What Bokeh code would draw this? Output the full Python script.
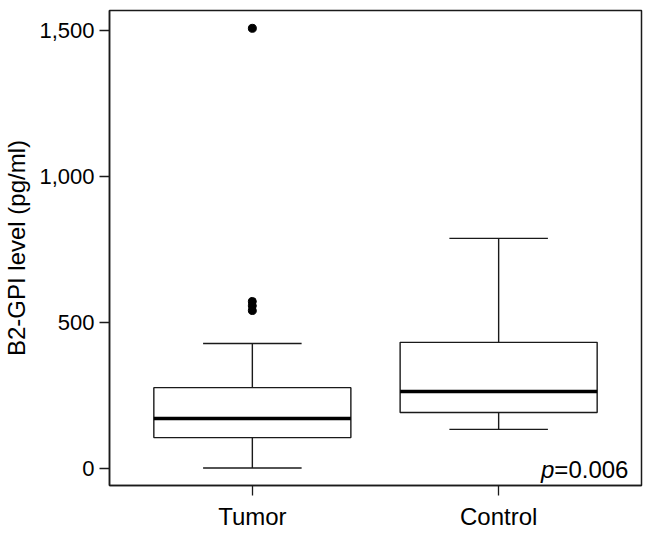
from bokeh.plotting import figure
from bokeh.models import FixedTicker, NumeralTickFormatter, Range1d, Label
from bokeh.embed import file_html
from bokeh.resources import INLINE

# ---- data ----
categories = ["Tumor", "Control"]
whisker_low = [2, 134]
q1 = [106, 192]
median = [171, 264]
q3 = [277, 432]
whisker_high = [428, 788]
outlier_group = ["Tumor", "Tumor", "Tumor", "Tumor"]
outlier_values = [1507, 572, 557, 541]
y_ticks = [0, 500, 1000, 1500]
p_text = "0.006"

FONT = "Liberation Sans"
LC = "#1a1a1a"

xpos = {c: i + 1 for i, c in enumerate(categories)}
xs = [xpos[c] for c in categories]

p = figure(width=644, height=550, output_backend="svg", toolbar_location=None,
           x_range=Range1d(0.42, 2.58), y_range=Range1d(-58, 1568),
           min_border_left=107, min_border_right=3, min_border_top=10, min_border_bottom=65)

p.xgrid.visible = False
p.ygrid.visible = False
p.outline_line_color = LC
p.outline_line_width = 1.5
p.background_fill_color = "white"
p.border_fill_color = "white"

# whiskers
p.segment(x0=xs, x1=xs, y0=q3, y1=whisker_high, line_color=LC, line_width=1.4)
p.segment(x0=xs, x1=xs, y0=whisker_low, y1=q1, line_color=LC, line_width=1.4)
cap_l = [x - 0.2 for x in xs]
cap_r = [x + 0.2 for x in xs]
p.segment(x0=cap_l, x1=cap_r, y0=whisker_high, y1=whisker_high, line_color=LC, line_width=1.4)
p.segment(x0=cap_l, x1=cap_r, y0=whisker_low, y1=whisker_low, line_color=LC, line_width=1.4)
# boxes
p.vbar(x=xs, width=0.8, bottom=q1, top=q3, fill_color="white", line_color=LC, line_width=1.4)
# medians
p.segment(x0=[x - 0.4 for x in xs], x1=[x + 0.4 for x in xs], y0=median, y1=median,
          line_color="black", line_width=3.5)
# outliers
p.scatter(x=[xpos[g] for g in outlier_group], y=outlier_values, size=8,
          marker="circle", fill_color="black", line_color="black")

# axes
p.xaxis.ticker = FixedTicker(ticks=xs)
p.xaxis.major_label_overrides = {x: c for x, c in zip(xs, categories)}
p.yaxis.ticker = FixedTicker(ticks=y_ticks)
p.yaxis.formatter = NumeralTickFormatter(format="0,0")
p.xaxis.minor_tick_line_color = None
p.yaxis.minor_tick_line_color = None
for ax in (p.xaxis, p.yaxis):
    ax.axis_line_color = LC
    ax.axis_line_width = 1.5
    ax.major_tick_line_color = LC
    ax.major_tick_line_width = 1.3
    ax.major_tick_out = 10
    ax.major_tick_in = 0
    ax.major_label_text_font = FONT
    ax.major_label_text_color = "black"
p.xaxis.major_label_text_font_size = "24px"
p.yaxis.major_label_text_font_size = "22px"
p.xaxis.major_label_standoff = 7
p.yaxis.major_label_standoff = 5
p.yaxis.axis_label = "B2-GPI level (pg/ml)"
p.yaxis.axis_label_text_font = FONT
p.yaxis.axis_label_text_font_size = "24px"
p.yaxis.axis_label_text_font_style = "normal"
p.yaxis.axis_label_text_color = "black"
p.yaxis.axis_label_standoff = 6

# p-value annotation
p.add_layout(Label(x=2.527, y=-3, text="=" + p_text, text_align="right", text_baseline="alphabetic",
                   text_font=FONT, text_font_size="24px", text_color="black"))
p.add_layout(Label(x=2.527, y=-3, x_offset=-74, text="p", text_align="right", text_baseline="alphabetic",
                   text_font=FONT, text_font_size="24px", text_font_style="italic", text_color="black"))

open("out.html", "w").write(file_html(p, INLINE))
